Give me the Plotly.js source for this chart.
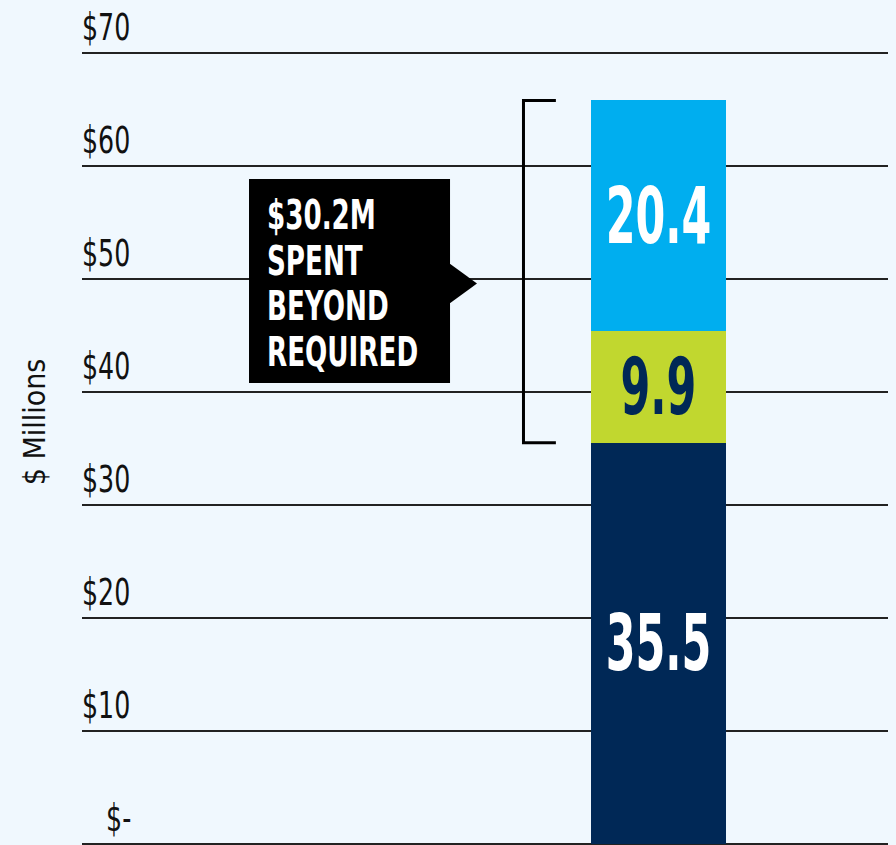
<!DOCTYPE html>
<html>
<head>
<meta charset="utf-8">
<script src="https://cdn.plot.ly/plotly-3.0.1.min.js"></script>
<style>
html,body{margin:0;padding:0;background:#f0f8fe;}
#chart{width:896px;height:845px;}
</style>
</head>
<body>
<div id="chart"></div>
<script>
// ---- data ----
const category = ["Spending"];
const requiredSpend = [35.5];
const extraSpendA = [9.9];
const extraSpendB = [20.4];
const tickValues = [0, 10, 20, 30, 40, 50, 60, 70];
const tickLabels = ["\u00a0\u00a0\u00a0$-", "$10", "$20", "$30", "$40", "$50", "$60", "$70"];
const calloutLines = ["$30.2M", "SPENT", "BEYOND", "REQUIRED"];

const FONT = "'DejaVu Sans Condensed', 'Liberation Sans Narrow', sans-serif";

function seg(vals, color, textColor) {
  return {
    type: "bar",
    x: [0],
    y: vals,
    width: 1,
    marker: {color: color, line: {width: 0}},
    text: vals.map(v => v.toFixed(1)),
    textposition: "inside",
    insidetextanchor: "middle",
    constraintext: "none",
    textangle: 0,
    textfont: {family: FONT, size: 78, color: textColor, weight: "bold"},
    hoverinfo: "skip",
    showlegend: false,
    cliponaxis: false
  };
}

const traces = [
  seg(requiredSpend, "#002856", "#ffffff"),
  seg(extraSpendA, "#c1d72f", "#002856"),
  seg(extraSpendB, "#00aeef", "#ffffff")
];

const bracketBottom = requiredSpend[0];
const bracketTop = requiredSpend[0] + extraSpendA[0] + extraSpendB[0];
const bx = -1.0, bx2 = -0.76;

const calloutAnnotations = calloutLines.map((line, i) => ({
  x: -2.892, y: 55.66 - i * 4.04, xref: "x", yref: "y",
  xanchor: "left", yanchor: "middle", align: "left", xshift: -3,
  showarrow: false, text: line,
  font: {family: FONT, size: 41, color: "#ffffff", weight: "bold"}
}));

const layout = {
  width: 896, height: 845,
  margin: {l: 82, r: 8, t: 0, b: 1, pad: 0},
  paper_bgcolor: "#f0f8fe",
  plot_bgcolor: "#f0f8fe",
  barmode: "stack",
  showlegend: false,
  xaxis: {range: [-4.27, 1.70], visible: false, fixedrange: true},
  yaxis: {
    range: [0, 74.69],
    tickvals: tickValues,
    ticktext: tickLabels,
    ticklabelposition: "inside",
    ticklabelshift: -26,
    ticklabelstandoff: -3,
    ticks: "",
    showgrid: true,
    gridcolor: "#222222",
    gridwidth: 2,
    zeroline: true,
    zerolinecolor: "#222222",
    zerolinewidth: 2,
    showline: false,
    tickfont: {family: FONT, size: 37, color: "#111111"},
    title: {text: "$ Millions", font: {family: FONT, size: 30, color: "#111111"}, standoff: 27},
    fixedrange: true,
    layer: "below traces"
  },
  shapes: [
    {type: "path", xref: "x", yref: "y",
     path: `M ${bx2} ${bracketTop} L ${bx} ${bracketTop} L ${bx} ${bracketBottom} L ${bx2} ${bracketBottom}`,
     line: {color: "#000000", width: 3}},
    {type: "rect", xref: "x", yref: "y", x0: -3.033, x1: -1.544, y0: 40.8, y1: 58.85,
     fillcolor: "#000000", line: {width: 0}},
    {type: "path", xref: "x", yref: "y",
     path: "M -1.55 51.4 L -1.344 49.6 L -1.55 47.8 Z",
     fillcolor: "#000000", line: {width: 0}}
  ],
  annotations: calloutAnnotations
};

// narrow the glyphs horizontally to imitate the condensed typeface of the original
function squeeze(selector, k) {
  document.querySelectorAll(selector).forEach(el => {
    const len = el.getComputedTextLength();
    if (len > 0) {
      el.setAttribute("textLength", (len * k).toFixed(2));
      el.setAttribute("lengthAdjust", "spacingAndGlyphs");
    }
  });
}

Plotly.newPlot("chart", traces, layout, {displayModeBar: false, staticPlot: true}).then(() => {
  squeeze(".ytick text", 0.76);
  squeeze("text.bartext", 0.61);
  squeeze("text.annotation-text", 0.71);
});
</script>
</body>
</html>
